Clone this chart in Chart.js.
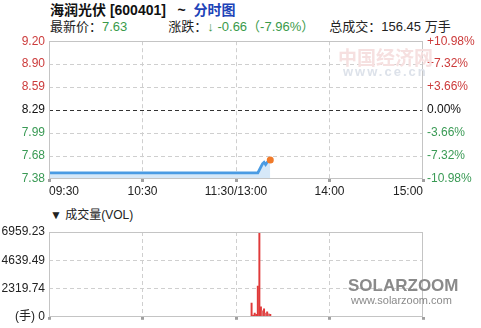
<!DOCTYPE html>
<html>
<head>
<meta charset="utf-8">
<script src="https://cdn.jsdelivr.net/npm/chart.js@4.4.1/dist/chart.umd.min.js"></script>
<style>
  html, body { margin: 0; padding: 0; background: #fff; }
  body { width: 481px; height: 328px; position: relative; overflow: hidden;
         font-family: "Liberation Sans", "Noto Sans CJK SC", sans-serif; color: #222; }
  .abs { position: absolute; white-space: nowrap; }
  #title { left: 50px; top: 2px; font-size: 14px; font-weight: bold; line-height: 16px; color: #111; }
  #title .blue { color: #1d43b8; }
  #quote { left: 50px; top: 19px; font-size: 13px; line-height: 16px; color: #222; }
  .g { color: #3a9a4a; }
  #volTitle { left: 50px; top: 208px; font-size: 12px; line-height: 14px; color: #222; }
  canvas { position: absolute; left: 0; }
  #priceCanvas { top: 30px; }
  #volCanvas { top: 200px; }
  .wm1 { left: 338px; top: 43px; font-size: 19px; font-weight: bold; color: #f6e0e0; letter-spacing: 0px; }
  .wm2 { left: 343px; top: 64px; font-size: 13px; font-weight: bold; color: #dde2ea; letter-spacing: 2px; }
  .wm3 { left: 348px; top: 276px; font-size: 17px; font-weight: bold; color: #8a8a8a; letter-spacing: 0px; }
  .wm4 { left: 351px; top: 294px; font-size: 11px; color: #8a8a8a; }
</style>
</head>
<body>
<div id="title" class="abs">海润光伏 [600401] &nbsp;&nbsp;~&nbsp; <span class="blue">分时图</span></div>
<div id="quote" class="abs">最新价：<span class="g">7.63</span><span style="display:inline-block;width:41px"></span>涨跌：<span class="g">↓ -0.66（-7.96%）</span><span style="display:inline-block;width:15px"></span>总成交：156.45 万手</div>
<canvas id="priceCanvas" width="481" height="170"></canvas>
<div id="volTitle" class="abs">▼ 成交量(VOL)</div>
<canvas id="volCanvas" width="481" height="128"></canvas>
<div class="abs wm1">中国经济网</div>
<div class="abs wm2">www.ce.cn</div>
<div class="abs wm3">SOLARZOOM</div>
<div class="abs wm4">www.solarzoom.com</div>

<script>
// Previous close and session layout (minutes after 09:30, lunch break collapsed)
const prevClose = 8.29;
const timeTicks = [0, 60, 120, 180, 240];
const timeLabels = ['09:30', '10:30', '11:30/13:00', '14:00', '15:00'];

// Price axis ticks: percent steps and their printed labels
const pctTicks = [10.98, 7.32, 3.66, 0, -3.66, -7.32, -10.98];
const priceTickLabels = ['9.20', '8.90', '8.59', '8.29', '7.99', '7.68', '7.38'];
const pctTickLabels = ['+10.98%', '+7.32%', '+3.66%', '0.00%', '-3.66%', '-7.32%', '-10.98%'];

// Intraday price path (minute, price)
const priceMinutes = [0, 134, 135, 136, 137, 138, 139, 140, 141, 142];
const priceValues  = [7.46, 7.46, 7.50, 7.54, 7.58, 7.60, 7.57, 7.60, 7.62, 7.63];

// Volume per minute (lots)
const volMinutes = [0, 130, 131, 132, 133, 134, 135, 136, 137, 138, 139, 140, 141, 142];
const volValues  = [250, 1130, 150, 300, 200, 2530, 6959.23, 810, 500, 650, 300, 400, 250, 200];
const volColors  = ['#3a9a4a', '#e03a3a', '#e03a3a', '#e03a3a', '#e03a3a', '#e03a3a', '#e03a3a',
                    '#e03a3a', '#e07070', '#e03a3a', '#e07070', '#e03a3a', '#e07070', '#e03a3a'];
const volTickValues = [0, 2319.74, 4639.49, 6959.23];
const volTickLabels = ['(手) 0', '2319.74', '4639.49', '6959.23'];

const RED = '#cc3b3b', GREEN = '#3a9a55', BLACK = '#111';
const FONT = { family: '"Liberation Sans", "Noto Sans CJK SC", sans-serif', size: 12 };

function signColor(i, mid) {
  return i < mid ? RED : (i === mid ? BLACK : GREEN);
}

// Light grey frame round the plot area
const framePlugin = {
  id: 'frame',
  afterDraw(chart) {
    const a = chart.chartArea, c = chart.ctx;
    c.save();
    c.strokeStyle = '#c4c4c4';
    c.lineWidth = 1;
    c.setLineDash([]);
    c.strokeRect(Math.round(a.left) + 0.5, Math.round(a.top) + 0.5,
                 Math.round(a.right - a.left) - 1, Math.round(a.bottom - a.top) - 1);
    c.restore();
  }
};

const yMax = prevClose * (1 + pctTicks[0] / 100);
const yMin = prevClose * (1 + pctTicks[pctTicks.length - 1] / 100);
const lastIdx = priceValues.length - 1;

const timeAxis = (showLabels, height) => ({
  type: 'linear', min: 0, max: 240, offset: false,
  afterBuildTicks: s => { s.ticks = timeTicks.map(v => ({ value: v })); },
  ticks: {
    display: showLabels, align: 'inner', autoSkip: false, maxRotation: 0,
    padding: 2, color: '#222', font: FONT,
    callback: (v, i) => timeLabels[i]
  },
  grid: {
    offset: false,
    color: ctx => (ctx.index === 0 || ctx.index === timeTicks.length - 1) ? 'rgba(0,0,0,0)' : '#cfcfcf',
    lineWidth: 1, drawTicks: true, tickLength: 3, tickWidth: 3, tickColor: '#a0a0a0'
  },
  border: { display: false, dash: [4, 3] },
  afterFit: s => { s.height = height; }
});

new Chart(document.getElementById('priceCanvas'), {
  type: 'line',
  data: {
    datasets: [{
      data: priceMinutes.map((m, i) => ({ x: m, y: priceValues[i] })),
      borderColor: '#4a9be3',
      borderWidth: 2.8,
      backgroundColor: '#d6e8f8',
      fill: 'start',
      tension: 0,
      pointRadius: ctx => ctx.dataIndex === lastIdx ? 3.5 : 0,
      pointBackgroundColor: '#f07a2a',
      pointBorderWidth: 0,
      yAxisID: 'y'
    }]
  },
  options: {
    responsive: false, animation: false, events: [],
    layout: { padding: { top: 8, left: 0, right: 0, bottom: 0 } },
    plugins: { legend: { display: false }, tooltip: { enabled: false } },
    scales: {
      x: timeAxis(true, 21),
      y: {
        position: 'left', min: yMin, max: yMax,
        afterBuildTicks: s => { s.ticks = pctTicks.slice().reverse().map(p => ({ value: prevClose * (1 + p / 100) })); },
        ticks: {
          padding: 4, font: FONT,
          color: ctx => signColor(pctTicks.length - 1 - ctx.index, 3),
          callback: (v, i) => priceTickLabels[pctTicks.length - 1 - i]
        },
        grid: {
          drawTicks: false, lineWidth: 1,
          color: ctx => {
            const i = ctx.index;
            if (i === 0 || i === pctTicks.length - 1) return 'rgba(0,0,0,0)';
            return i === 3 ? '#333' : '#cfcfcf';
          }
        },
        border: { display: false, dash: [4, 3] },
        afterFit: s => { s.width = 49; }
      },
      yPct: {
        position: 'right', min: pctTicks[pctTicks.length - 1], max: pctTicks[0],
        afterBuildTicks: s => { s.ticks = pctTicks.slice().reverse().map(p => ({ value: p })); },
        ticks: {
          padding: 4, font: FONT,
          color: ctx => signColor(pctTicks.length - 1 - ctx.index, 3),
          callback: (v, i) => pctTickLabels[pctTicks.length - 1 - i]
        },
        grid: { drawOnChartArea: false, drawTicks: false },
        border: { display: false },
        afterFit: s => { s.width = 58; }
      }
    }
  },
  plugins: [framePlugin]
});

new Chart(document.getElementById('volCanvas'), {
  type: 'bar',
  data: {
    datasets: [{
      data: volMinutes.map((m, i) => ({ x: m, y: volValues[i] })),
      backgroundColor: volColors,
      barThickness: 1.3,
      borderWidth: 0
    }]
  },
  options: {
    responsive: false, animation: false, events: [],
    layout: { padding: { top: 32, left: 0, right: 58, bottom: 0 } },
    plugins: { legend: { display: false }, tooltip: { enabled: false } },
    scales: {
      x: timeAxis(false, 10),
      y: {
        position: 'left', min: 0, max: volTickValues[volTickValues.length - 1],
        afterBuildTicks: s => { s.ticks = volTickValues.map(v => ({ value: v })); },
        ticks: {
          padding: 4, font: FONT, color: '#222',
          callback: (v, i) => volTickLabels[i]
        },
        grid: {
          drawTicks: false, lineWidth: 1,
          color: ctx => (ctx.index === 0 || ctx.index === volTickValues.length - 1) ? 'rgba(0,0,0,0)' : '#cfcfcf'
        },
        border: { display: false, dash: [4, 3] },
        afterFit: s => { s.width = 49; }
      }
    }
  },
  plugins: [framePlugin]
});
</script>
</body>
</html>
